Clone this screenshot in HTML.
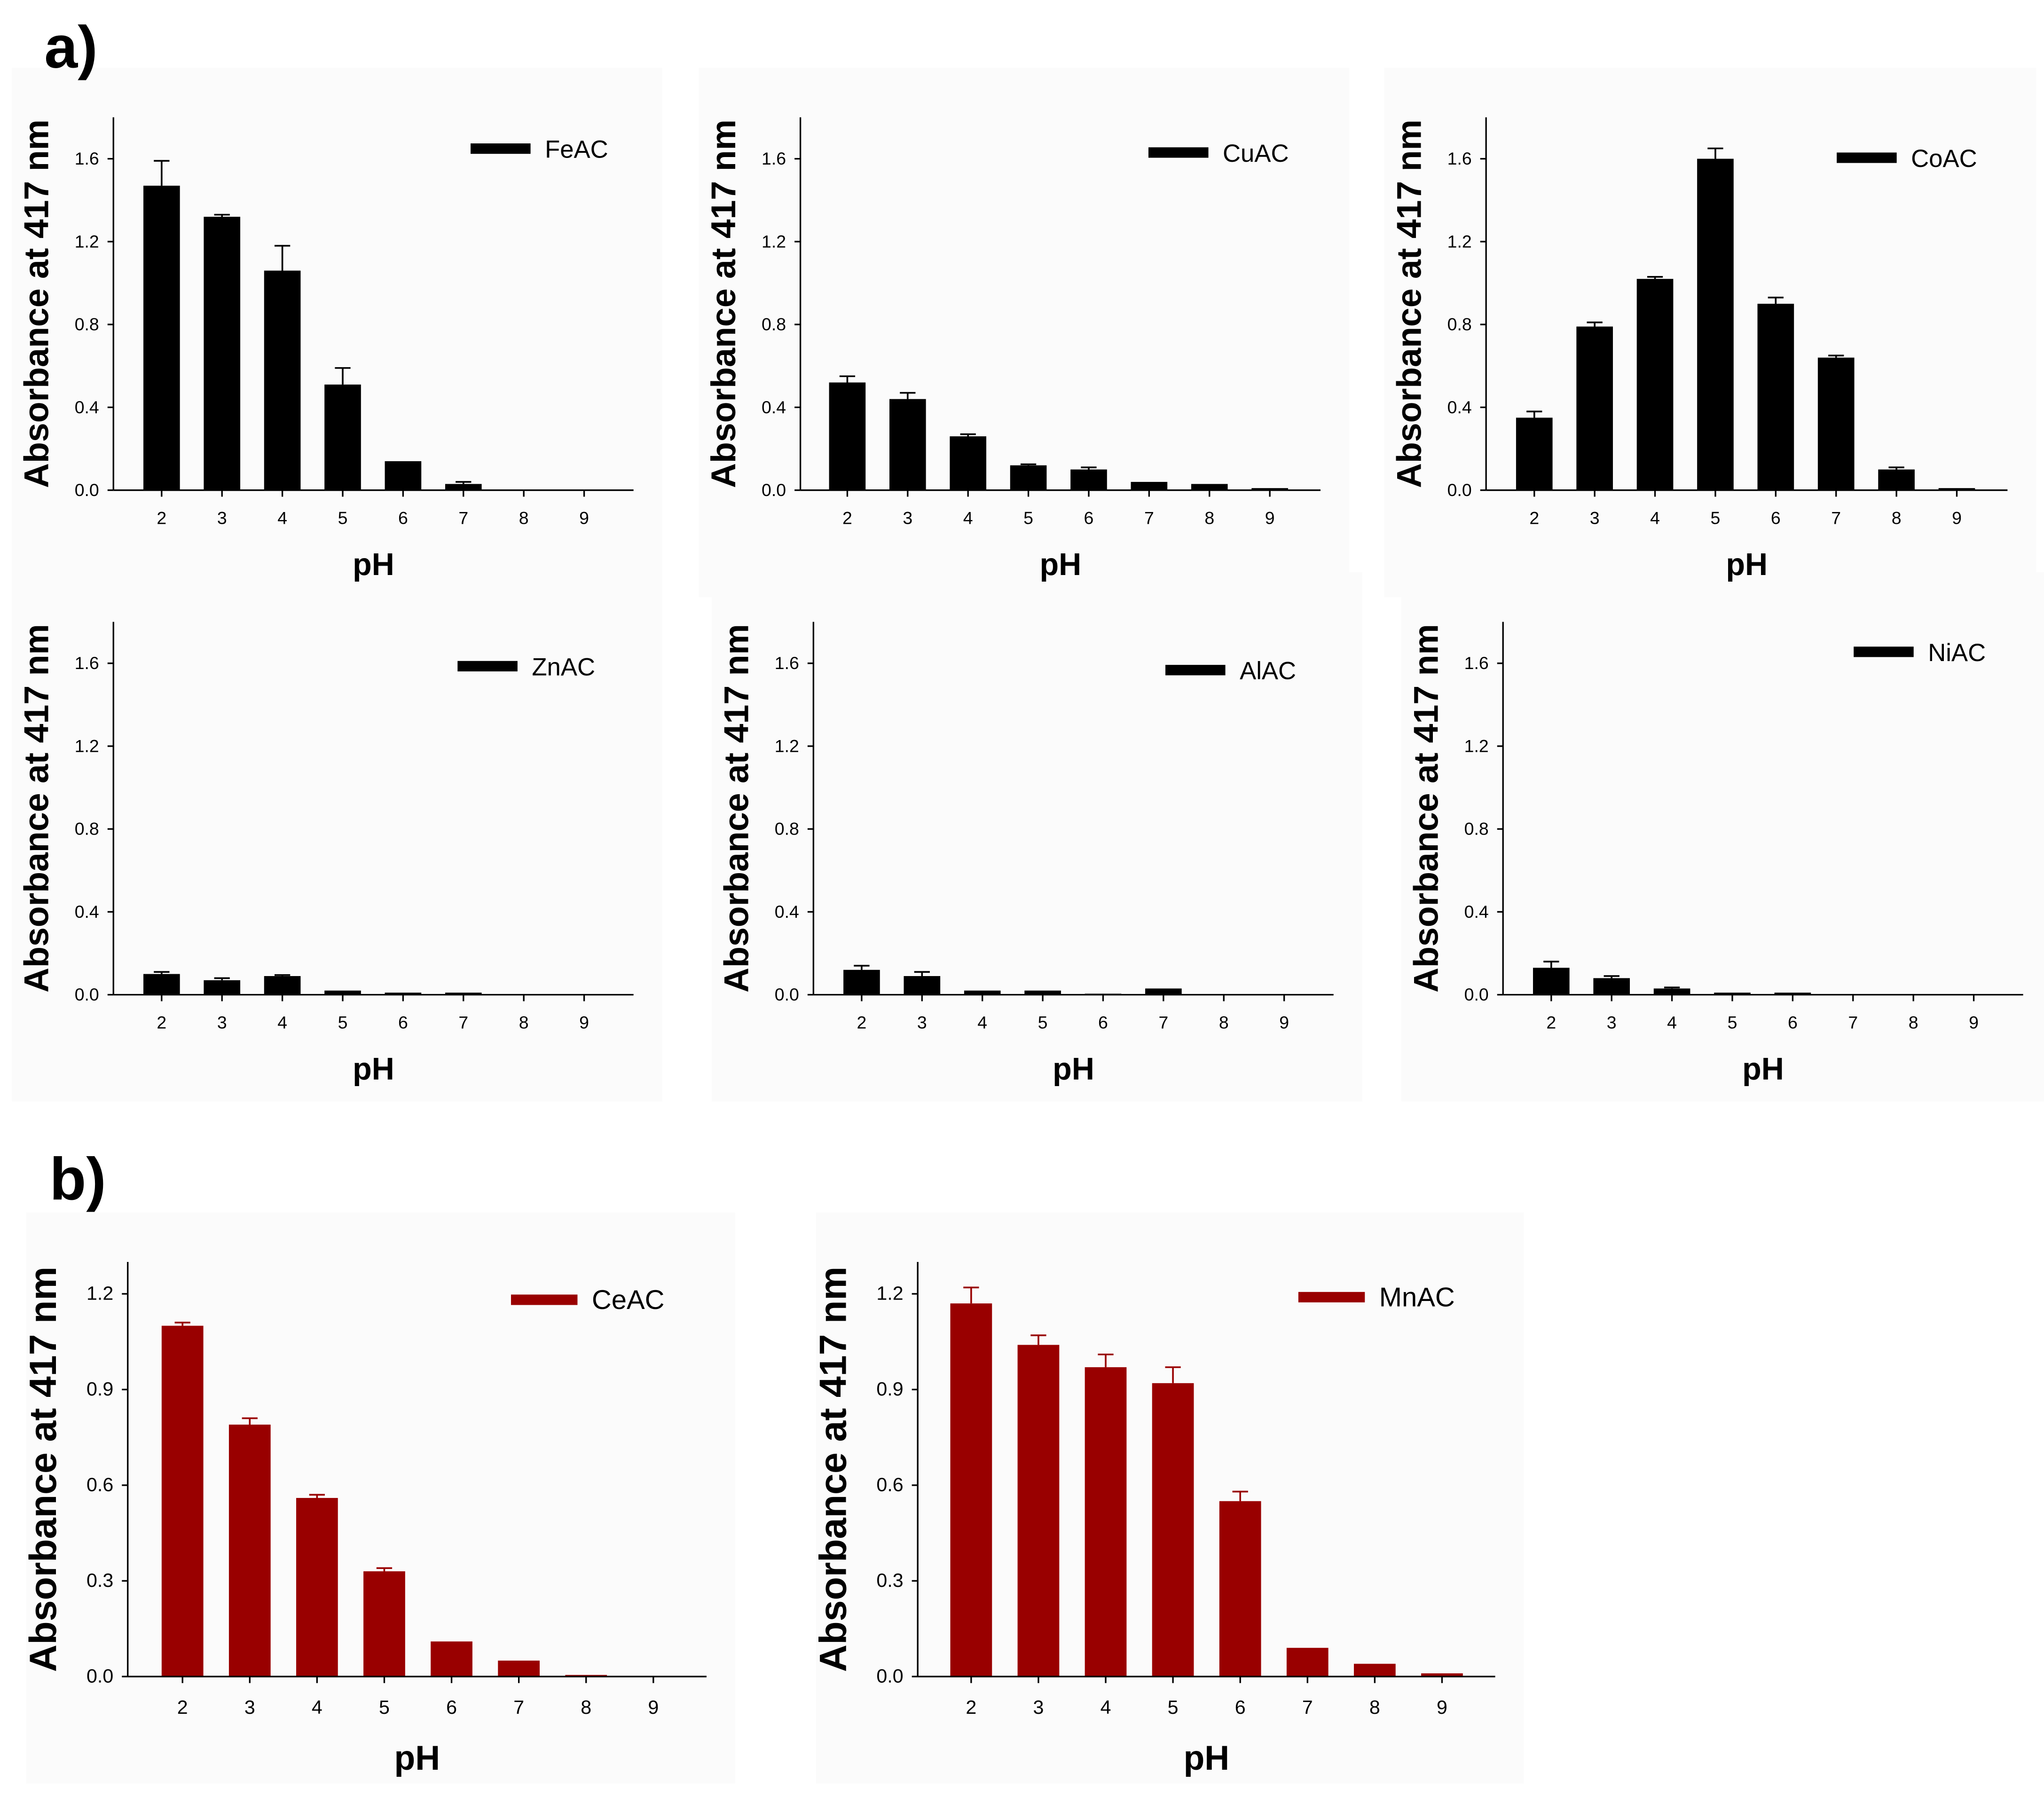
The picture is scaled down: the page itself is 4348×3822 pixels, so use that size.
<!DOCTYPE html>
<html><head><meta charset="utf-8"><style>
html,body{margin:0;padding:0;background:#fff;}
svg{display:block;font-family:"Liberation Sans",Arial,sans-serif;}
</style></head><body>
<svg id="fig" width="4348" height="3822" viewBox="0 0 1568 1378.4" preserveAspectRatio="none" xmlns="http://www.w3.org/2000/svg">
<rect x="0" y="0" width="1568" height="1378.4" fill="#ffffff"/>
<g id="bgs"></g>
<text x="34" y="52" font-size="46" font-weight="bold">a)</text>
<text x="38" y="920" font-size="46" font-weight="bold">b)</text>
<g id="charts"></g>
</svg>
<script>
const categories = ["2","3","4","5","6","7","8","9"];
const feValues = [1.47,1.32,1.06,0.51,0.14,0.03,0,0];
const feErrors = [0.12,0.01,0.12,0.08,0,0.01,0,0];
const cuValues = [0.52,0.44,0.26,0.12,0.10,0.04,0.03,0.01];
const cuErrors = [0.03,0.03,0.01,0.005,0.01,0,0,0];
const coValues = [0.35,0.79,1.02,1.60,0.90,0.64,0.10,0.01];
const coErrors = [0.03,0.02,0.01,0.05,0.03,0.01,0.01,0];
const znValues = [0.10,0.07,0.09,0.02,0.01,0.01,0,0];
const znErrors = [0.01,0.01,0.005,0,0,0,0,0];
const alValues = [0.12,0.09,0.02,0.02,0.005,0.03,0,0];
const alErrors = [0.02,0.02,0,0,0,0,0,0];
const niValues = [0.13,0.08,0.03,0.01,0.01,0,0,0];
const niErrors = [0.03,0.01,0.005,0,0,0,0,0];
const ceValues = [1.10,0.79,0.56,0.33,0.11,0.05,0.005,0];
const ceErrors = [0.01,0.02,0.01,0.01,0,0,0,0];
const mnValues = [1.17,1.04,0.97,0.92,0.55,0.09,0.04,0.01];
const mnErrors = [0.05,0.03,0.04,0.05,0.03,0,0,0];
const ticksA = [0,0.4,0.8,1.2,1.6];
const tickLabelsA = ["0.0","0.4","0.8","1.2","1.6"];
const ticksB = [0,0.3,0.6,0.9,1.2];
const tickLabelsB = ["0.0","0.3","0.6","0.9","1.2"];

const NS="http://www.w3.org/2000/svg";
const root=document.getElementById('charts');
const bgs=document.getElementById('bgs');
function mk(tag,attrs,parent){const e=document.createElementNS(NS,tag);for(const k in attrs)e.setAttribute(k,attrs[k]);(parent||root).appendChild(e);return e;}

const panels=[
 {name:"feac",label:"FeAC",vals:feValues,errs:feErrors,ax:87,ax2:486,top:90,bot:376,ymax:1.8,c0:124,dx:46.3,bw:28,ticks:ticksA,tl:tickLabelsA,lx:361,ly:114,col:"#000",fs:1},
 {name:"cuac",label:"CuAC",vals:cuValues,errs:cuErrors,ax:614,ax2:1013,top:90,bot:376,ymax:1.8,c0:650,dx:46.3,bw:28,ticks:ticksA,tl:tickLabelsA,lx:881,ly:117,col:"#000",fs:1},
 {name:"coac",label:"CoAC",vals:coValues,errs:coErrors,ax:1140,ax2:1540,top:90,bot:376,ymax:1.8,c0:1177,dx:46.3,bw:28,ticks:ticksA,tl:tickLabelsA,lx:1409,ly:121,col:"#000",fs:1},
 {name:"znac",label:"ZnAC",vals:znValues,errs:znErrors,ax:87,ax2:486,top:477,bot:763,ymax:1.8,c0:124,dx:46.3,bw:28,ticks:ticksA,tl:tickLabelsA,lx:351,ly:511,col:"#000",fs:1},
 {name:"alac",label:"AlAC",vals:alValues,errs:alErrors,ax:624,ax2:1023,top:477,bot:763,ymax:1.8,c0:661,dx:46.3,bw:28,ticks:ticksA,tl:tickLabelsA,lx:894,ly:514,col:"#000",fs:1},
 {name:"niac",label:"NiAC",vals:niValues,errs:niErrors,ax:1153,ax2:1552,top:477,bot:763,ymax:1.8,c0:1190,dx:46.3,bw:28,ticks:ticksA,tl:tickLabelsA,lx:1422,ly:500,col:"#000",fs:1},
 {name:"ceac",label:"CeAC",vals:ceValues,errs:ceErrors,ax:98,ax2:542,top:968,bot:1286,ymax:1.3,c0:140,dx:51.6,bw:32,ticks:ticksB,tl:tickLabelsB,lx:392,ly:997,col:"#990000",fs:1.1},
 {name:"mnac",label:"MnAC",vals:mnValues,errs:mnErrors,ax:704,ax2:1147,top:968,bot:1286,ymax:1.3,c0:745,dx:51.6,bw:32,ticks:ticksB,tl:tickLabelsB,lx:996,ly:995,col:"#990000",fs:1.1}
];

panels.forEach(p=>{
 mk('rect',{x:p.ax-78,y:p.top-38,width:p.ax2-p.ax+100,height:p.bot-p.top+120,fill:"#fbfbfb"},bgs);
 const g=mk('g',{});
 
 
 const y=v=>p.bot-(v/p.ymax)*(p.bot-p.top);
 const x=i=>p.c0+i*p.dx;
 p.vals.forEach((v,i)=>{
  const r=mk('rect',{x:x(i)-p.bw/2,y:y(v),width:p.bw,height:Math.max(0,p.bot-y(v)),fill:p.col},g);
  
  
  if(p.errs[i]>0){
   const e=mk('path',{d:`M${x(i)} ${y(v)} V${y(v+p.errs[i])} M${x(i)-6} ${y(v+p.errs[i])} H${x(i)+6}`,stroke:p.col,"stroke-width":1.3,fill:"none"},g);
   
   
  }
 });
 const ya=mk('line',{x1:p.ax,y1:p.top,x2:p.ax,y2:p.bot,stroke:"#000","stroke-width":1.2},g);
 
 
 const xa=mk('line',{x1:p.ax,y1:p.bot,x2:p.ax2,y2:p.bot,stroke:"#000","stroke-width":1.2},g);
 
 
 p.ticks.forEach((t,k)=>{
  mk('line',{x1:p.ax-4.5,y1:y(t),x2:p.ax,y2:y(t),stroke:"#000","stroke-width":1.2},g);
  const tx=mk('text',{x:p.ax-11,y:y(t)+4.5,"font-size":13.5*p.fs,"text-anchor":"end"},g);
  tx.textContent=p.tl[k];
  
  
 });
 categories.forEach((c,i)=>{
  mk('line',{x1:x(i),y1:p.bot,x2:x(i),y2:p.bot+5,stroke:"#000","stroke-width":1.2},g);
  const tx=mk('text',{x:x(i),y:p.bot+26*p.fs,"font-size":13.5*p.fs,"text-anchor":"middle"},g);
  tx.textContent=c;
  
  
 });
 const xt=mk('text',{x:(p.ax+p.ax2)/2,y:p.bot+65*p.fs,"font-size":24*p.fs,"font-weight":"bold","text-anchor":"middle"},g);
 xt.textContent="pH";
 
 
 const cy=(p.top+p.bot)/2;
 const tx0=p.ax-50*p.fs;
 const yt=mk('text',{x:tx0,y:cy,"font-size":26.5*p.fs,"font-weight":"bold","text-anchor":"middle",transform:`rotate(-90 ${tx0} ${cy})`},g);
 yt.textContent="Absorbance at 417 nm";
 
 
 const lg=mk('g',{},g);
 
 
 const lw=p.fs>1?51:46;
 mk('rect',{x:p.lx,y:p.ly-4,width:lw,height:8,fill:p.col},lg);
 const lt=mk('text',{x:p.lx+lw+11,y:p.ly+7,"font-size":19*p.fs},lg);
 lt.textContent=p.label;
});
</script>
</body></html>
